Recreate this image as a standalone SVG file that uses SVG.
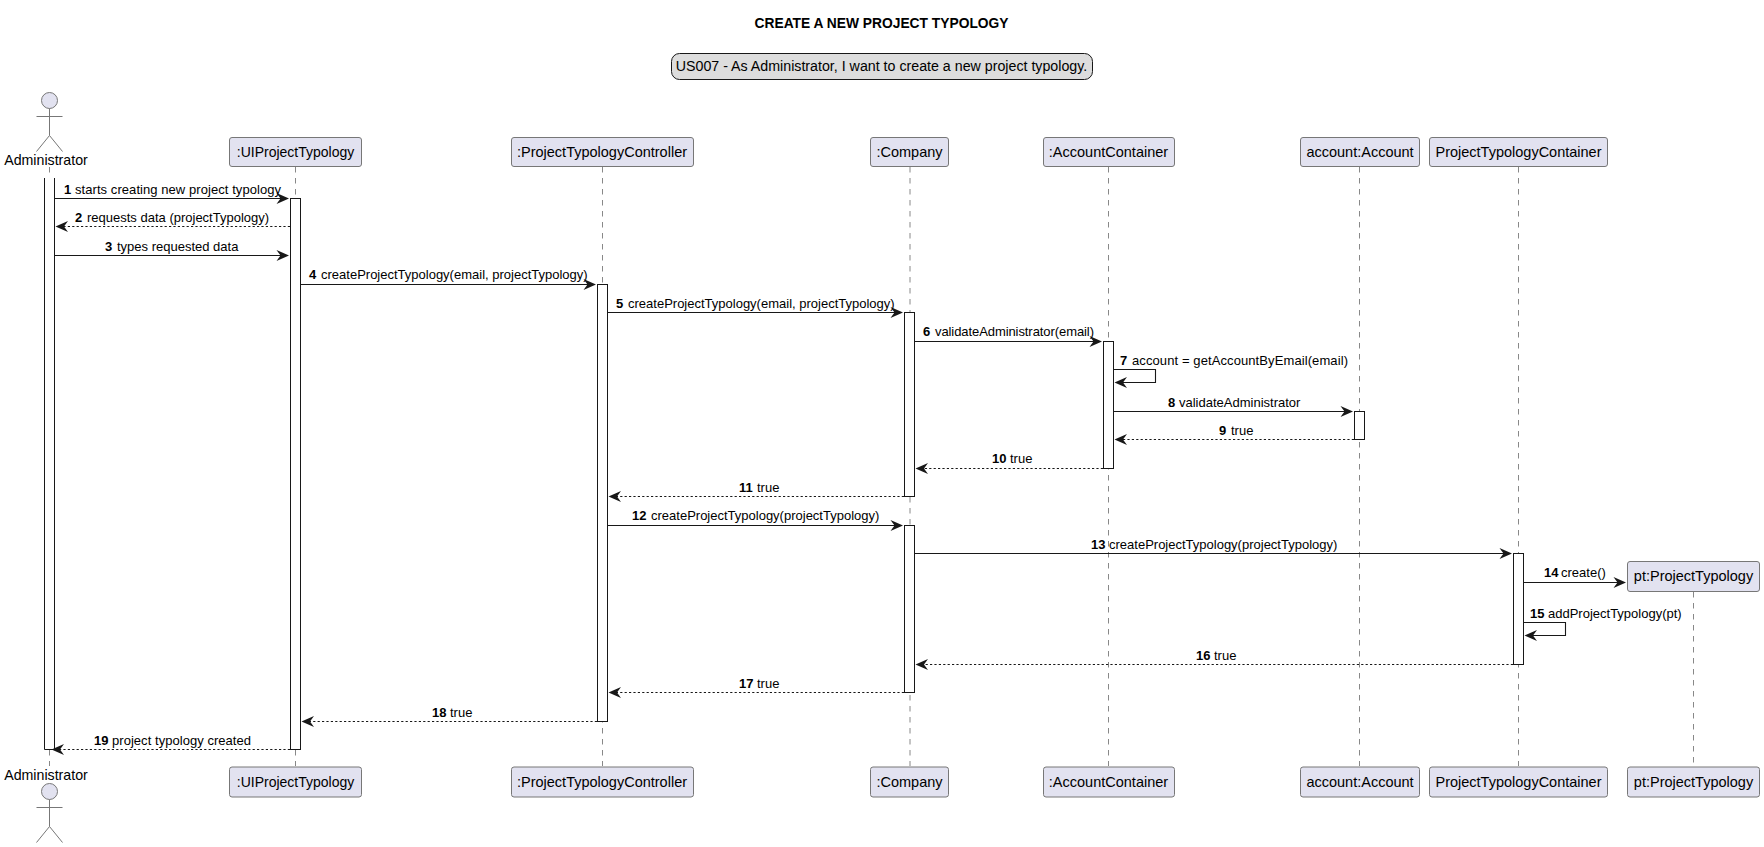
<svg xmlns="http://www.w3.org/2000/svg" width="1764" height="847" viewBox="0 0 1764 847">
<style>
text{font-family:"Liberation Sans",Arial,sans-serif;fill:#000}
.t{font-size:14.5px}
.u{font-size:14px}
.ad{font-size:14.2px}
.m{font-size:13px}
.n{font-weight:bold;font-size:13px}
.c{text-anchor:middle}
.box{fill:#E2E2F0;stroke:#777;stroke-width:1}
.ll{stroke:#888;stroke-width:1;stroke-dasharray:5.5 5.5;fill:none}
.bar{fill:#fff;stroke:#181818;stroke-width:1}
.a{stroke:#181818;stroke-width:1.1;fill:none}
.d{stroke:#181818;stroke-width:1.1;fill:none;stroke-dasharray:2.2 2.2}
.h{fill:#181818;stroke:none}
.act{fill:#E2E2F0;stroke:#777;stroke-width:1}
.actl{stroke:#777;stroke-width:1;fill:none}
</style>
<defs>
<path id="r" class="h" d="M0 0L-12.5 -5.5L-8.5 0L-12.5 5.5Z"/>
<path id="l" class="h" d="M0 0L12.5 -5.5L8.5 0L12.5 5.5Z"/>
<g id="pt-figure"><circle cx="0" cy="8" r="8" class="act"/><path class="actl" d="M0 16V43M-13 24H13M0 43L-13 59M0 43L13 59"/></g>
</defs>
<text x="881.5" y="27.5" class="c" style="font-size:13.8px;font-weight:bold">CREATE A NEW PROJECT TYPOLOGY</text>
<g id="legend"><rect x="671.5" y="53.5" width="421" height="26" rx="8" ry="8" fill="#DDDDDD" stroke="#181818" stroke-width="1"/><text x="881.5" y="71" class="c" style="font-size:14.23px">US007 - As Administrator, I want to create a new project typology.</text></g>
<g id="lifelines">
<path class="ll" d="M49.5 167V766"/><path class="ll" d="M295.5 167V766"/><path class="ll" d="M602.5 167V766"/><path class="ll" d="M910 167V766"/><path class="ll" d="M1108.5 167V766"/><path class="ll" d="M1359.5 167V766"/><path class="ll" d="M1518.5 167V766"/><path class="ll" d="M1693.5 592V766"/>
</g>
<g id="activations">
<rect x="44.5" y="178" width="10" height="571.5" fill="#fff"/><path class="bar" style="fill:none" d="M44.5 178V749.5H54.5V178"/>
<rect class="bar" x="290.5" y="198.5" width="10" height="551"/>
<rect class="bar" x="597.5" y="284.5" width="10" height="437"/>
<rect class="bar" x="904.5" y="312.5" width="10" height="184"/>
<rect class="bar" x="904.5" y="525.5" width="10" height="167"/>
<rect class="bar" x="1103.5" y="341.5" width="10" height="127"/>
<rect class="bar" x="1354.5" y="411.5" width="10" height="28"/>
<rect class="bar" x="1513.5" y="553.5" width="10" height="111"/>
</g>
<g id="connectors">
<path class="a" d="M54.5 198.5H288"/><use href="#r" x="289" y="198.5"/>
<path class="d" d="M290 226.5H57"/><use href="#l" x="55.5" y="226.5"/>
<path class="a" d="M54.5 255.5H288"/><use href="#r" x="289" y="255.5"/>
<path class="a" d="M300.5 284.5H595"/><use href="#r" x="596" y="284.5"/>
<path class="a" d="M607.5 312.5H902"/><use href="#r" x="903" y="312.5"/>
<path class="a" d="M914.5 341.5H1101"/><use href="#r" x="1102" y="341.5"/>
<path class="a" d="M1113.5 369.5H1155.5V382.5H1116"/><use href="#l" x="1114.5" y="382.5"/>
<path class="a" d="M1113.5 411.5H1352"/><use href="#r" x="1353" y="411.5"/>
<path class="d" d="M1354 439.5H1116"/><use href="#l" x="1114.5" y="439.5"/>
<path class="d" d="M1103 468.5H917"/><use href="#l" x="915.5" y="468.5"/>
<path class="d" d="M904 496.5H610"/><use href="#l" x="608.5" y="496.5"/>
<path class="a" d="M607.5 525.5H902"/><use href="#r" x="903" y="525.5"/>
<path class="a" d="M914.5 553.5H1511"/><use href="#r" x="1512" y="553.5"/>
<path class="a" d="M1523.5 582.5H1625"/><use href="#r" x="1626" y="582.5"/>
<path class="a" d="M1523.5 622.5H1565.5V635.5H1526"/><use href="#l" x="1524.5" y="635.5"/>
<path class="d" d="M1513 664.5H917"/><use href="#l" x="915.5" y="664.5"/>
<path class="d" d="M904 692.5H610"/><use href="#l" x="608.5" y="692.5"/>
<path class="d" d="M597 721.5H303"/><use href="#l" x="301.5" y="721.5"/>
<path class="d" d="M290 749.5H53"/><use href="#l" x="51.5" y="749.5"/>
</g>
<g id="messages">
<text x="64" y="194" class="n">1</text><text x="75" y="194" class="m" textLength="206">starts creating new project typology</text>
<text x="75" y="222" class="n">2</text><text x="87" y="222" class="m">requests data (projectTypology)</text>
<text x="105" y="251" class="n">3</text><text x="117" y="251" class="m">types requested data</text>
<text x="309" y="279" class="n">4</text><text x="321" y="279" class="m">createProjectTypology(email, projectTypology)</text>
<text x="616" y="308" class="n">5</text><text x="628" y="308" class="m">createProjectTypology(email, projectTypology)</text>
<text x="923" y="336" class="n">6</text><text x="935" y="336" class="m" textLength="159">validateAdministrator(email)</text>
<text x="1120" y="365" class="n">7</text><text x="1132" y="365" class="m" textLength="216">account = getAccountByEmail(email)</text>
<text x="1168" y="407" class="n">8</text><text x="1179" y="407" class="m">validateAdministrator</text>
<text x="1219" y="435" class="n">9</text><text x="1231" y="435" class="m">true</text>
<text x="992" y="463" class="n">10</text><text x="1010" y="463" class="m">true</text>
<text x="739" y="492" class="n">11</text><text x="757" y="492" class="m">true</text>
<text x="632" y="520" class="n">12</text><text x="651" y="520" class="m">createProjectTypology(projectTypology)</text>
<text x="1091" y="549" class="n">13</text><text x="1109" y="549" class="m">createProjectTypology(projectTypology)</text>
<text x="1544" y="577" class="n">14</text><text x="1561" y="577" class="m">create()</text>
<text x="1530" y="618" class="n">15</text><text x="1548" y="618" class="m">addProjectTypology(pt)</text>
<text x="1196" y="660" class="n">16</text><text x="1214" y="660" class="m">true</text>
<text x="739" y="688" class="n">17</text><text x="757" y="688" class="m">true</text>
<text x="432" y="717" class="n">18</text><text x="450" y="717" class="m">true</text>
<text x="94" y="745" class="n">19</text><text x="112" y="745" class="m" textLength="139">project typology created</text>
</g>
<g id="administrator"><use href="#pt-figure" x="49.5" y="92.5"/><text x="46" y="165" class="c ad">Administrator</text><text x="46" y="780" class="c ad">Administrator</text><use href="#pt-figure" x="49.5" y="783.5"/></g>
<g id="ui"><rect class="box" x="229.5" y="137.5" width="132" height="29" rx="2.5"/><text x="295.5" y="157" class="c u">:UIProjectTypology</text><rect class="box" x="229.5" y="767" width="132" height="30" rx="2.5"/><text x="295.5" y="787" class="c u">:UIProjectTypology</text></g>
<g id="controller"><rect class="box" x="511.5" y="137.5" width="182" height="29" rx="2.5"/><text x="602" y="157" class="c t">:ProjectTypologyController</text><rect class="box" x="511.5" y="767" width="182" height="30" rx="2.5"/><text x="602" y="787" class="c t">:ProjectTypologyController</text></g>
<g id="company"><rect class="box" x="870.5" y="137.5" width="78" height="29" rx="2.5"/><text x="909.5" y="157" class="c t">:Company</text><rect class="box" x="870.5" y="767" width="78" height="30" rx="2.5"/><text x="909.5" y="787" class="c t">:Company</text></g>
<g id="accountcontainer"><rect class="box" x="1043.5" y="137.5" width="131" height="29" rx="2.5"/><text x="1108.5" y="157" class="c t">:AccountContainer</text><rect class="box" x="1043.5" y="767" width="131" height="30" rx="2.5"/><text x="1108.5" y="787" class="c t">:AccountContainer</text></g>
<g id="account"><rect class="box" x="1300.5" y="137.5" width="119" height="29" rx="2.5"/><text x="1360" y="157" class="c t">account:Account</text><rect class="box" x="1300.5" y="767" width="119" height="30" rx="2.5"/><text x="1360" y="787" class="c t">account:Account</text></g>
<g id="ptcontainer"><rect class="box" x="1429.5" y="137.5" width="178" height="29" rx="2.5"/><text x="1518.5" y="157" class="c t">ProjectTypologyContainer</text><rect class="box" x="1429.5" y="767" width="178" height="30" rx="2.5"/><text x="1518.5" y="787" class="c t">ProjectTypologyContainer</text></g>
<g id="pt"><rect class="box" x="1627.5" y="561.5" width="132" height="30" rx="2.5"/><text x="1693.5" y="581" class="c t">pt:ProjectTypology</text><rect class="box" x="1627.5" y="767" width="132" height="30" rx="2.5"/><text x="1693.5" y="787" class="c t">pt:ProjectTypology</text></g>
</svg>
